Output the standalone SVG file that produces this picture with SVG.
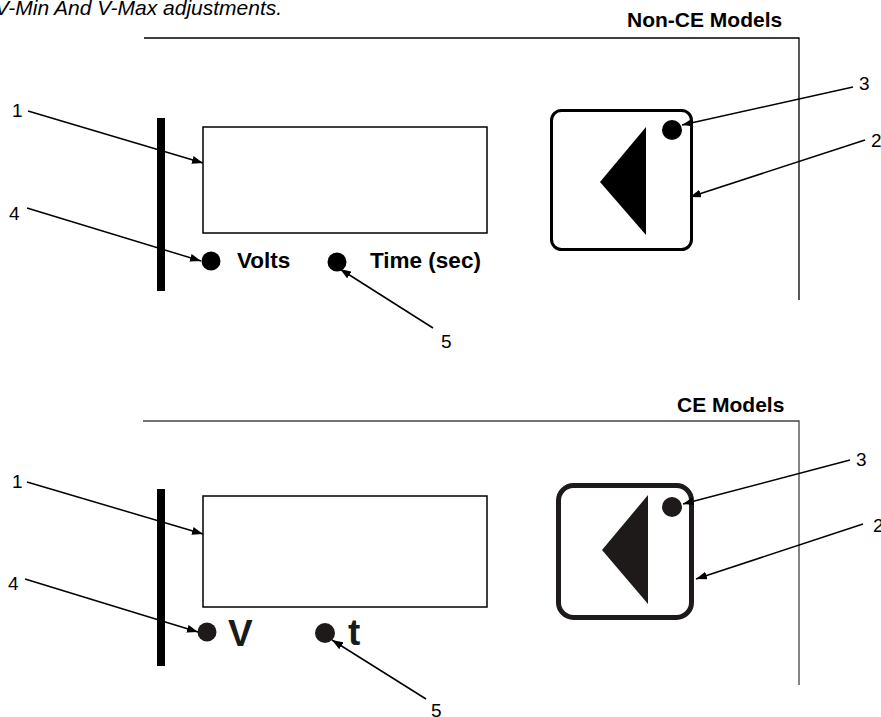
<svg xmlns="http://www.w3.org/2000/svg" width="881" height="717" viewBox="0 0 881 717">
  <style>
    .cap { font-family: "Liberation Sans", Arial, sans-serif; font-style: italic; font-size: 21px; fill: #000; }
    .head { font-family: "Liberation Sans", Arial, sans-serif; font-weight: bold; font-size: 21px; fill: #000; }
    .lbl { font-family: "Liberation Sans", Arial, sans-serif; font-weight: bold; font-size: 22.5px; fill: #000; }
    .big { font-family: "Liberation Sans", Arial, sans-serif; font-weight: bold; font-size: 37px; fill: #1a1a1a; }
    .num { font-family: "Liberation Sans", Arial, sans-serif; font-size: 19px; fill: #000; }
    .frame { fill: none; stroke: #000; stroke-width: 1.3; }
    .frame2 { fill: none; stroke: #444; stroke-width: 1.3; }
    .bar { fill: #000; }
    .disp { fill: #fff; stroke: #000; stroke-width: 1.5; }
    .led { fill: #000; }
    .led2 { fill: #1e1a1a; }
    .btn { fill: #fff; stroke: #000; stroke-width: 3; }
    .btn2 { fill: #fff; stroke: #1e1a1a; stroke-width: 5; }
    .conn { fill: none; stroke: #000; stroke-width: 1.5; marker-end: url(#arr); }
  </style>
  <defs>
    <marker id="arr" markerUnits="userSpaceOnUse" markerWidth="12" markerHeight="8" refX="11" refY="4" orient="auto">
      <path d="M0,0 L11,4 L0,8 Z" fill="#000"/>
    </marker>
  </defs>
  <rect width="881" height="717" fill="#fff"/>

  <text class="cap" x="-5" y="15">V-Min And V-Max adjustments.</text>

  <!-- Upper: Non-CE Models -->
  <g id="nonce-panel">
    <text class="head" x="627" y="27">Non-CE Models</text>
    <polyline class="frame" points="144,38 799,38 799,300"/>
  </g>
  <g id="upper-bar"><rect class="bar" x="157" y="118" width="8" height="173"/></g>
  <g id="upper-display"><rect class="disp" x="203" y="127" width="284" height="106"/></g>
  <g id="upper-volts-led">
    <circle class="led" cx="211" cy="261" r="9.5"/>
    <text class="lbl" x="237" y="268">Volts</text>
  </g>
  <g id="upper-time-led">
    <circle class="led" cx="337" cy="262" r="9.5"/>
    <text class="lbl" x="370" y="268">Time (sec)</text>
  </g>
  <g id="upper-button">
    <rect class="btn" x="551.5" y="110.5" width="140" height="139" rx="10"/>
    <circle class="led" cx="672" cy="130" r="10"/>
    <polygon points="600,182 646,127 646,235" fill="#000"/>
  </g>
  <g id="upper-labels">
    <text class="num" x="12" y="117">1</text>
    <text class="num" x="9" y="220">4</text>
    <text class="num" x="859" y="90">3</text>
    <text class="num" x="871" y="147">2</text>
    <text class="num" x="441" y="348">5</text>
  </g>

  <!-- Lower: CE Models -->
  <g id="ce-panel">
    <text class="head" x="677" y="412">CE Models</text>
    <polyline class="frame2" points="143,421 799,421 799,685"/>
  </g>
  <g id="lower-bar"><rect class="bar" x="157" y="489" width="8" height="177"/></g>
  <g id="lower-display"><rect class="disp" x="203" y="496" width="284" height="111"/></g>
  <g id="lower-v-led">
    <circle class="led2" cx="207" cy="632" r="9.5"/>
    <text class="big" x="228" y="646">V</text>
  </g>
  <g id="lower-t-led">
    <circle class="led2" cx="325" cy="633" r="10"/>
    <text class="big" x="348" y="645">t</text>
  </g>
  <g id="lower-button">
    <rect class="btn2" x="558.5" y="485.5" width="133" height="132" rx="15"/>
    <circle class="led2" cx="672" cy="507" r="10"/>
    <polygon points="602,550 648,495 648,604" fill="#1e1a1a"/>
  </g>
  <g id="lower-labels">
    <text class="num" x="12" y="488">1</text>
    <text class="num" x="8" y="590">4</text>
    <text class="num" x="856" y="466">3</text>
    <text class="num" x="873" y="532">2</text>
    <text class="num" x="431" y="717">5</text>
  </g>

  <g id="connectors">
    <line class="conn" x1="28" y1="111" x2="203" y2="163"/>
    <line class="conn" x1="27" y1="208" x2="201" y2="261"/>
    <line class="conn" x1="853" y1="87" x2="682" y2="125"/>
    <line class="conn" x1="865" y1="140" x2="690" y2="197"/>
    <line class="conn" x1="433" y1="328" x2="340" y2="269"/>
    <line class="conn" x1="27" y1="482" x2="203" y2="534"/>
    <line class="conn" x1="25" y1="579" x2="198" y2="632"/>
    <line class="conn" x1="850" y1="460" x2="683" y2="504"/>
    <line class="conn" x1="863" y1="524" x2="696" y2="579"/>
    <line class="conn" x1="426" y1="699" x2="332" y2="640"/>
  </g>
</svg>
